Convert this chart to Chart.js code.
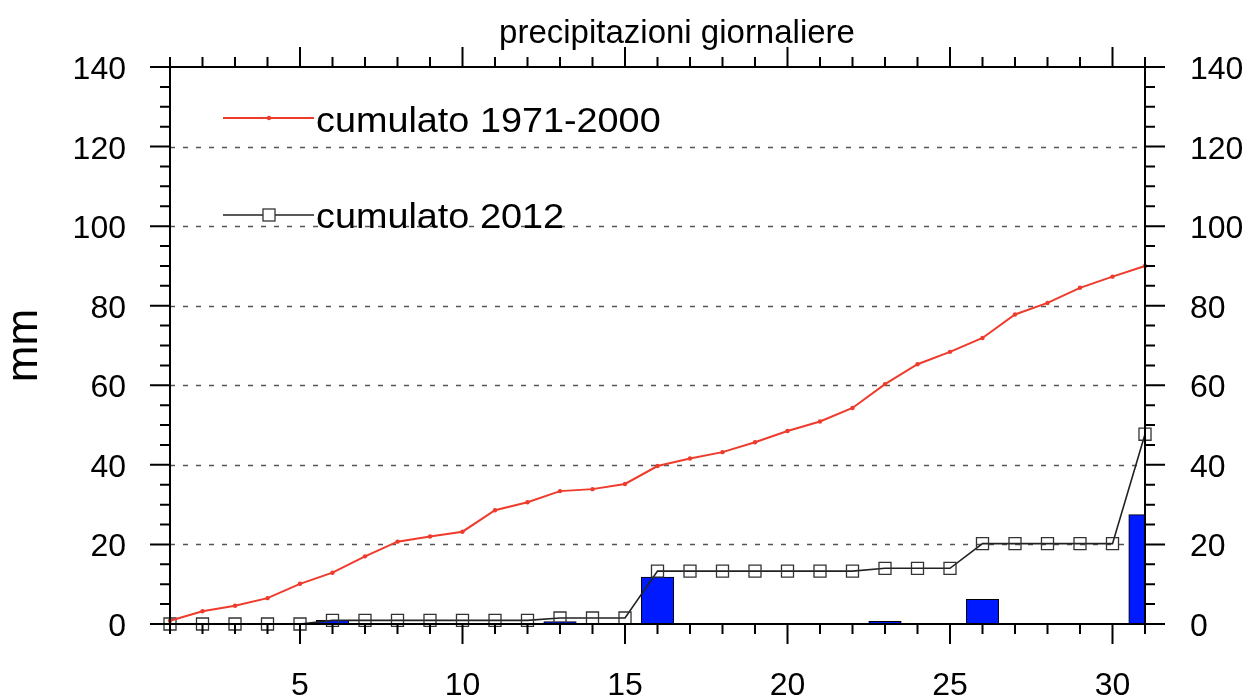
<!DOCTYPE html>
<html>
<head>
<meta charset="utf-8">
<script src="https://cdn.jsdelivr.net/npm/chart.js@4.4.1/dist/chart.umd.min.js"></script>
<style>
  html, body { margin: 0; padding: 0; background: #fff; }
  #wrap { width: 1248px; height: 699px; position: relative; }
</style>
</head>
<body>
<div id="wrap"><canvas id="precipChart"></canvas></div>
<script>
// giorni del mese
var days = [1,2,3,4,5,6,7,8,9,10,11,12,13,14,15,16,17,18,19,20,21,22,23,24,25,26,27,28,29,30,31];
// cumulato climatologico 1971-2000 (mm)
var clima = [0.8,3.2,4.6,6.5,10.1,12.9,17.0,20.7,22.0,23.2,28.6,30.6,33.4,33.9,35.2,39.7,41.6,43.2,45.7,48.5,50.9,54.3,60.3,65.3,68.4,71.9,77.8,80.7,84.5,87.3,90.0];
// cumulato 2012 (mm)
var cum2012 = [0,0,0,0,0,0.9,0.9,0.9,0.9,0.9,0.9,0.9,1.5,1.5,1.5,13.3,13.3,13.3,13.3,13.3,13.3,13.3,14.0,14.0,14.0,20.2,20.2,20.2,20.2,20.2,47.7];
// precipitazione giornaliera 2012 (mm)
var daily2012 = [0,0,0,0,0,0.9,0,0,0,0,0,0,0.6,0,0,11.8,0,0,0,0,0,0,0.7,0,0,6.2,0,0,0,0,27.5];

var xTickLabels = [5,10,15,20,25,30];
var yTickLabels = [0,20,40,60,80,100,120,140];
var gridValues = [20,40,60,80,100,120];

var FONT = '"Liberation Sans", Arial, Helvetica, sans-serif';
var redColor = '#EE3B2B';
var blackColor = '#222222';
var barColor = '#001AFF';

function pts(arr) {
  return days.map(function(d, i) { return { x: d, y: arr[i] }; });
}

/* griglia tratteggiata */
var gridPlugin = {
  id: 'dashGrid',
  beforeDatasetsDraw: function(chart) {
    var c = chart.ctx, a = chart.chartArea, ys = chart.scales.y;
    c.save();
    c.strokeStyle = '#555';
    c.lineWidth = 1.3;
    c.setLineDash([5, 8]);
    gridValues.forEach(function(v) {
      var y = Math.round(ys.getPixelForValue(v)) + 0.5;
      c.beginPath();
      c.moveTo(a.left, y);
      c.lineTo(a.right, y);
      c.stroke();
    });
    c.restore();
  }
};

/* testo leggermente allargato, come nell'originale */
function wideText(c, txt, x, y, sx) {
  c.save();
  c.translate(x, y);
  c.scale(sx, 1);
  c.fillText(txt, 0, 0);
  c.restore();
}

/* cornice, tacche, etichette, titolo, legenda */
var framePlugin = {
  id: 'ncarFrame',
  afterDraw: function(chart) {
    var c = chart.ctx, a = chart.chartArea;
    var xs = chart.scales.x, ys = chart.scales.y;
    c.save();
    c.strokeStyle = '#000';
    c.lineWidth = 2;
    c.setLineDash([]);
    c.strokeRect(a.left, a.top, a.right - a.left, a.bottom - a.top);

    // tacche asse x (giorni)
    days.forEach(function(d) {
      var x = xs.getPixelForValue(d);
      var len = d % 5 === 0 ? 20 : 10;
      c.beginPath();
      c.moveTo(x, a.bottom); c.lineTo(x, a.bottom + len);
      c.moveTo(x, a.top); c.lineTo(x, a.top - len);
      c.stroke();
    });
    // tacche asse y ogni 5 mm
    for (var v = 0; v <= 140; v += 5) {
      var y = ys.getPixelForValue(v);
      var l = v % 20 === 0 ? 20 : 10;
      c.beginPath();
      c.moveTo(a.left, y); c.lineTo(a.left - l, y);
      c.moveTo(a.right, y); c.lineTo(a.right + l, y);
      c.stroke();
    }

    c.fillStyle = '#000';
    c.font = '32px ' + FONT;
    c.textBaseline = 'alphabetic';
    c.textAlign = 'center';
    xTickLabels.forEach(function(d) {
      c.fillText(String(d), xs.getPixelForValue(d), a.bottom + 71);
    });
    yTickLabels.forEach(function(v) {
      var y = ys.getPixelForValue(v) + 12;
      c.textAlign = 'right';
      c.fillText(String(v), a.left - 44, y);
      c.textAlign = 'left';
      c.fillText(String(v), a.right + 45, y);
    });

    // titolo
    c.textAlign = 'center';
    c.font = '33px ' + FONT;
    c.fillText('precipitazioni giornaliere', 677, 43);

    // etichetta asse y
    c.save();
    c.translate(37, (a.top + a.bottom) / 2);
    c.rotate(-Math.PI / 2);
    c.font = '44px ' + FONT;
    c.textAlign = 'center';
    c.fillText('mm', 0, 0);
    c.restore();

    // legenda
    c.lineWidth = 2;
    c.strokeStyle = redColor;
    c.beginPath(); c.moveTo(223, 118); c.lineTo(314, 118); c.stroke();
    c.fillStyle = redColor;
    c.beginPath(); c.arc(269, 118, 2.2, 0, Math.PI * 2); c.fill();
    c.strokeStyle = blackColor;
    c.lineWidth = 1.6;
    c.beginPath(); c.moveTo(223, 215); c.lineTo(314, 215); c.stroke();
    c.fillStyle = '#fff';
    c.fillRect(263, 209, 12, 12);
    c.lineWidth = 1.3;
    c.strokeStyle = '#333';
    c.strokeRect(263, 209, 12, 12);
    c.fillStyle = '#000';
    c.textAlign = 'left';
    c.font = '35px ' + FONT;
    wideText(c, 'cumulato 1971-2000', 316, 132, 1.08);
    wideText(c, 'cumulato 2012', 316, 228, 1.08);
    c.restore();
  }
};

var chart = new Chart(document.getElementById('precipChart'), {
  type: 'bar',
  data: {
    datasets: [
      {
        type: 'line',
        label: 'cumulato 1971-2000',
        data: pts(clima),
        borderColor: redColor,
        backgroundColor: redColor,
        borderWidth: 2,
        pointRadius: 2.2,
        pointBorderWidth: 0,
        pointBackgroundColor: redColor,
        tension: 0,
        clip: false,
        order: 1
      },
      {
        type: 'line',
        label: 'cumulato 2012',
        data: pts(cum2012),
        borderColor: blackColor,
        borderWidth: 1.6,
        pointStyle: 'rect',
        pointRadius: 8.5,
        pointBorderWidth: 1.3,
        pointBorderColor: '#333',
        pointBackgroundColor: 'rgba(0,0,0,0)',
        tension: 0,
        clip: false,
        order: 2
      },
      {
        type: 'bar',
        label: 'giornaliero 2012',
        data: pts(daily2012),
        backgroundColor: barColor,
        borderColor: '#000',
        borderWidth: 1,
        borderSkipped: 'start',
        barPercentage: 1,
        categoryPercentage: 1,
        order: 3
      }
    ]
  },
  options: {
    responsive: true,
    maintainAspectRatio: false,
    animation: false,
    layout: { padding: { left: 170, right: 103, top: 67, bottom: 75 } },
    plugins: {
      legend: { display: false },
      title: { display: false },
      tooltip: { enabled: false }
    },
    scales: {
      x: { type: 'linear', min: 1, max: 31, offset: false, display: false },
      y: { type: 'linear', min: 0, max: 140, display: false }
    }
  },
  plugins: [gridPlugin, framePlugin]
});
</script>
</body>
</html>
